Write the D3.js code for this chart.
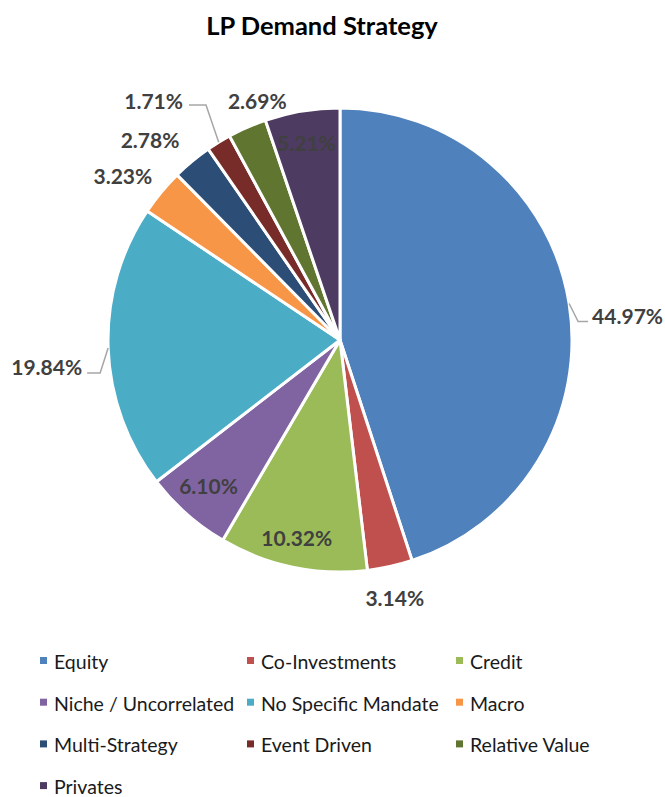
<!DOCTYPE html>
<html><head><meta charset="utf-8">
<script src="https://cdn.jsdelivr.net/npm/d3@7"></script>
<style>body{margin:0;background:#fff;}svg{display:block;}</style>
</head><body>
<svg id="chart" width="665" height="797"></svg>
<script>
const categories = ["Equity","Co-Investments","Credit","Niche / Uncorrelated","No Specific Mandate","Macro","Multi-Strategy","Event Driven","Relative Value","Privates"];
const values = [44.97,3.14,10.32,6.10,19.84,3.23,2.78,1.71,2.69,5.21];
const colors = ["#4F81BD","#C0504D","#9BBB59","#8064A2","#4BACC6","#F79646","#2C4D75","#772C2A","#5F7530","#4D3B62"];
const title = "LP Demand Strategy";

// label layout: radius factor + nudge, or a leader line (offsets from the slice edge)
const labelLayout = [
  {leader:[[9,18],[10,0]], tdx:4, tdy:-6, anchor:"start"},
  {rf:1.137, dx:-2, dy:0},
  {rf:0.869, dx:-2, dy:0},
  {rf:0.845, dx:-2, dy:-2},
  {leader:[[-8,25],[-13,0]], tdx:-5, tdy:-6, anchor:"end"},
  {rf:1.175, dx:-7, dy:9},
  {rf:1.19, dx:-14, dy:12},
  {leader:[[-12.7,-37.2],[-17,0]], tdx:-6, tdy:-5, anchor:"end"},
  {rf:1.095, dx:19, dy:-7},
  {rf:0.862, dx:-1, dy:0}
];

const svg = d3.select("#chart");
const cx = 340, cy = 340, R = 232;
const font = "Lato, 'Open Sans', sans-serif";

svg.append("text").attr("x", 322).attr("y", 25).attr("text-anchor","middle")
  .attr("dominant-baseline","central")
  .attr("font-family", font).attr("font-weight","bold").attr("font-size", 25.5)
  .attr("fill","#000").text(title);

const data = categories.map((c,i)=>({name:c, value:values[i], color:colors[i], layout:labelLayout[i]}));
const pie = d3.pie().value(d=>d.value).sort(null);
const arcs = pie(data);
const arc = d3.arc().innerRadius(0).outerRadius(R);
const g = svg.append("g").attr("transform",`translate(${cx},${cy})`);

g.selectAll("path.slice").data(arcs).join("path").attr("class","slice")
  .attr("d", arc).attr("fill", d=>d.data.color)
  .attr("stroke","#fff").attr("stroke-width",3).attr("stroke-linejoin","round");

function pt(angle, r){ return [r*Math.sin(angle), -r*Math.cos(angle)]; }
const lblColor = "#404040";
const leaderColor = "#A6A6A6";

arcs.forEach(a=>{
  const mid = (a.startAngle+a.endAngle)/2;
  const L = a.data.layout;
  const txt = a.data.value.toFixed(2)+"%";
  let x, y, anchor="middle";
  if (L.leader){
    const edge = pt(mid, R);
    const p1 = [edge[0]+L.leader[0][0], edge[1]+L.leader[0][1]];
    const p2 = [p1[0]+L.leader[1][0], p1[1]+L.leader[1][1]];
    g.append("polyline").attr("points",[edge,p1,p2].map(p=>p.join(",")).join(" "))
      .attr("fill","none").attr("stroke",leaderColor).attr("stroke-width",1.5);
    x = p2[0]+L.tdx; y = p2[1]+L.tdy; anchor = L.anchor;
  } else {
    const p = pt(mid, R*L.rf);
    x = p[0]+L.dx; y = p[1]+L.dy;
  }
  g.append("text").attr("x",x).attr("y",y).attr("text-anchor",anchor)
    .attr("dominant-baseline","central")
    .attr("font-family",font).attr("font-weight","bold").attr("font-size",21)
    .attr("fill",lblColor).text(txt);
});

// legend
const legCols = [40, 247, 456];
const legRow0 = 664, legRowStep = 41.7;
const leg = svg.append("g");
data.forEach((d,i)=>{
  const col = i%3, row = Math.floor(i/3);
  const x = legCols[col], y = legRow0 + row*legRowStep;
  leg.append("rect").attr("x",x).attr("y",y-7).attr("width",7).attr("height",7).attr("fill",d.color);
  leg.append("text").attr("x",x+14).attr("y",y).attr("dominant-baseline","middle")
    .attr("font-family",font).attr("font-size",19.5).attr("fill","#1a1a1a").text(d.name);
});
</script>
</body></html>
